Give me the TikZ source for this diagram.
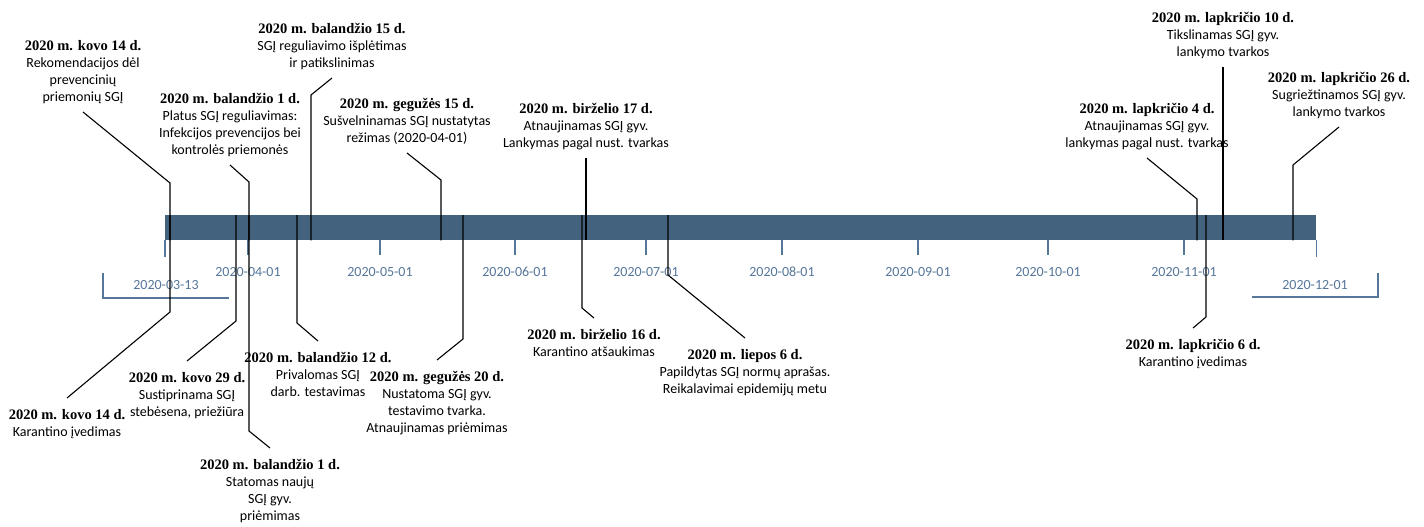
\documentclass[tikz,border=0pt]{standalone}
\usepackage{fontspec}
\setmainfont{Liberation Serif}
\newfontfamily\calfont{Carlito}
\definecolor{barblue}{HTML}{43627E}
\definecolor{axisblue}{HTML}{56769A}

\begin{document}
\begin{tikzpicture}[x=1pt,y=-1pt,
    barbox/.style={fill=barblue,draw=none,anchor=north west,minimum width=1151pt,minimum height=25pt,inner sep=0pt},
    lead/.style={draw=black,line width=1.1pt},
    axisline/.style={draw=axisblue,line width=1.2pt},
    datelbl/.style={text=axisblue,font=\calfont\fontsize{14}{17}\selectfont,inner sep=0pt},
    evt/.style={align=center,font=\calfont\fontsize{14}{17}\selectfont,inner xsep=0pt},
    evtup/.style={evt,anchor=south,inner ysep=8pt},
    evtdn/.style={evt,anchor=north,inner ysep=11pt}]
      \newcommand\hd[1]{{\rmfamily\bfseries\fontsize{14.5}{17}\selectfont #1}}
      \useasboundingbox (0,0) rectangle (1424,527);
      \node[barbox] (bar) at (165,215) {};
      \draw[axisline] (bar.south west) -- ++(0,17);
      \draw[axisline] (bar.south east) -- ++(0,17);
      \foreach \x/\d in {248/2020-04-01,380/2020-05-01,515/2020-06-01,646/2020-07-01,782/2020-08-01,918/2020-09-01,1048/2020-10-01,1184/2020-11-01} {
        \draw[axisline] (\x,240) -- (\x,255);
        \node[datelbl] (d\x) at (\x,272) {\d};
      }
      \node[datelbl] (dstart) at (166,285) {2020-03-13};
      \node[datelbl] (dend) at (1315,285) {2020-12-01};
      \draw[axisline] (103,273) -- (103,298) -- (229,298);
      \draw[axisline] (1252,297) -- (1378,297) -- (1378,273);

      \coordinate (t1b) at (170,183);
      \coordinate (t2b) at (249,182);
      \coordinate (t3b) at (311,95);
      \coordinate (t4b) at (441,180);
      \coordinate (t6b) at (1197,199);
      \coordinate (t8b) at (1293,165);
      \node[evtup] (t1) at (83,112) {\hd{2020 m. kovo 14 d.}\\Rekomendacijos dėl\\prevencinių\\priemonių SGĮ};
      \node[evtup] (t2) at (230,165) {\hd{2020 m. balandžio 1 d.}\\Platus SGĮ reguliavimas:\\Infekcijos prevencijos bei\\kontrolės priemonės};
      \node[evtup] (t3) at (332,78) {\hd{2020 m. balandžio 15 d.}\\SGĮ reguliavimo išplėtimas\\ir patikslinimas};
      \node[evtup] (t4) at (407,153) {\hd{2020 m. gegužės 15 d.}\\Sušvelninamas SGĮ nustatytas\\režimas (2020-04-01)};
      \node[evtup] (t5) at (586,158) {\hd{2020 m. birželio 17 d.}\\Atnaujinamas SGĮ gyv.\\Lankymas pagal nust. tvarkas};
      \node[evtup] (t6) at (1147,158) {\hd{2020 m. lapkričio 4 d.}\\Atnaujinamas SGĮ gyv.\\lankymas pagal nust. tvarkas};
      \node[evtup] (t7) at (1223,67) {\hd{2020 m. lapkričio 10 d.}\\Tikslinamas SGĮ gyv.\\lankymo tvarkos};
      \node[evtup] (t8) at (1339,127) {\hd{2020 m. lapkričio 26 d.}\\Sugriežtinamos SGĮ gyv.\\lankymo tvarkos};
      \draw[lead] (t1.south) -- (t1b) -- (t1b |- bar.south);
      \draw[lead] (t2.south) -- (t2b) -- (t2b |- bar.south);
      \draw[lead] (t3.south) -- (t3b) -- (t3b |- bar.south);
      \draw[lead] (t4.south) -- (t4b) -- (t4b |- bar.south);
      \draw[lead] (t5.south) -- (t5.south |- bar.south);
      \draw[lead] (t6.south) -- (t6b) -- (t6b |- bar.south);
      \draw[lead] (t7.south) -- (t7.south |- bar.south);
      \draw[lead] (t8.south) -- (t8b) -- (t8b |- bar.south);

      \coordinate (b1b) at (170,312);
      \coordinate (b2b) at (236,321);
      \coordinate (b3b) at (249,431);
      \coordinate (b4b) at (297,323);
      \coordinate (b5b) at (463,339);
      \coordinate (b6b) at (582,308);
      \coordinate (b7b) at (668,275);
      \coordinate (b8b) at (1206,317);
      \node[evtdn] (b1) at (67,398) {\hd{2020 m. kovo 14 d.}\\Karantino įvedimas};
      \node[evtdn] (b2) at (187,361) {\hd{2020 m. kovo 29 d.}\\Sustiprinama SGĮ\\stebėsena, priežiūra};
      \node[evtdn] (b3) at (270,448) {\hd{2020 m. balandžio 1 d.}\\Statomas naujų\\SGĮ gyv.\\priėmimas};
      \node[evtdn] (b4) at (318,341) {\hd{2020 m. balandžio 12 d.}\\Privalomas SGĮ\\darb. testavimas};
      \node[evtdn] (b5) at (437,360) {\hd{2020 m. gegužės 20 d.}\\Nustatoma SGĮ gyv.\\testavimo tvarka.\\Atnaujinamas priėmimas};
      \node[evtdn] (b6) at (594,318) {\hd{2020 m. birželio 16 d.}\\Karantino atšaukimas};
      \node[evtdn] (b7) at (745,338) {\hd{2020 m. liepos 6 d.}\\Papildytas SGĮ normų aprašas.\\Reikalavimai epidemijų metu};
      \node[evtdn] (b8) at (1193,328) {\hd{2020 m. lapkričio 6 d.}\\Karantino įvedimas};
      \draw[lead] (b1b |- bar.north) -- (b1b) -- (b1.north);
      \draw[lead] (b2b |- bar.north) -- (b2b) -- (b2.north);
      \draw[lead] (b3b |- bar.north) -- (b3b) -- (b3.north);
      \draw[lead] (b4b |- bar.north) -- (b4b) -- (b4.north);
      \draw[lead] (b5b |- bar.north) -- (b5b) -- (b5.north);
      \draw[lead] (b6b |- bar.north) -- (b6b) -- (b6.north);
      \draw[lead] (b7b |- bar.north) -- (b7b) -- (b7.north);
      \draw[lead] (b8b |- bar.north) -- (b8b) -- (b8.north);
    \end{tikzpicture}
\end{document}
